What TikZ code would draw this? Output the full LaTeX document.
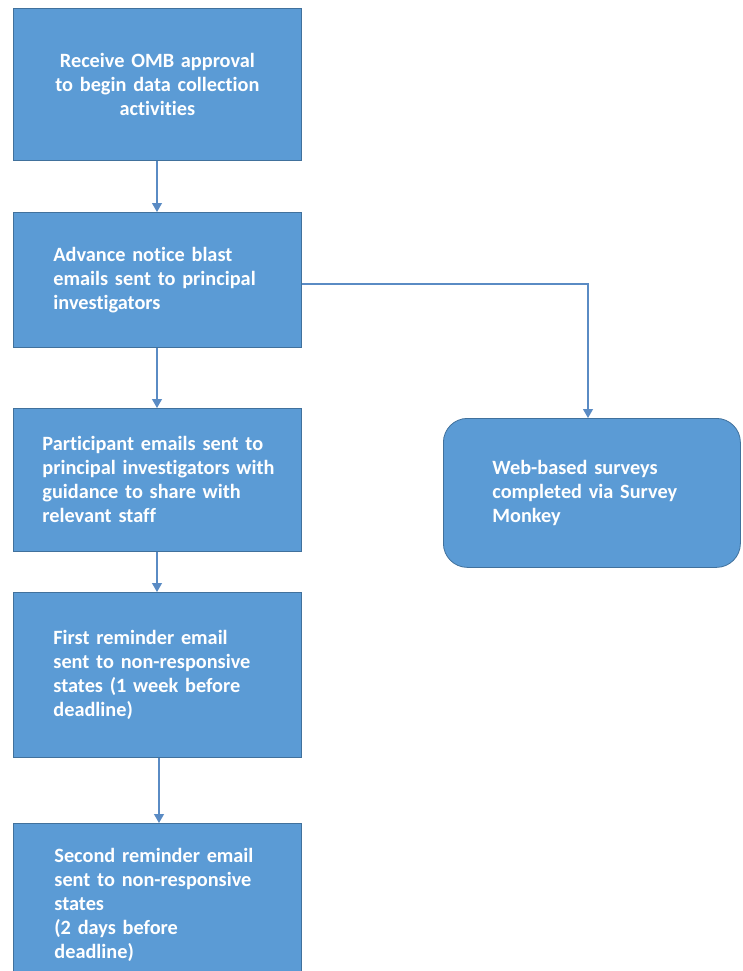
\documentclass[tikz,border=0pt]{standalone}
\usepackage{fontspec}
\setmainfont{Carlito}[Ligatures=CommonOff]
\usetikzlibrary{arrows.meta}
\definecolor{boxblue}{HTML}{5B9BD5}
\definecolor{boxedge}{HTML}{41719C}
\definecolor{linkblue}{HTML}{5A8BC4}
\tikzset{
  box/.style={draw=boxedge, line width=0.8pt, fill=boxblue, text=white,
    font=\fontsize{20.3}{24}\selectfont\bfseries, anchor=north west,
    minimum width=288pt, inner ysep=0pt},
  link/.style={draw=linkblue, line width=1.1pt, -{Triangle[width=10pt,length=9pt]}}
}
\begin{document}
\begin{tikzpicture}[x=1pt,y=-1pt]
\clip (0,0) rectangle (742,971);
\fill[white] (0,0) rectangle (742,971);
\node[box, minimum height=152pt, text width=240pt, inner xsep=24pt, align=center] (b1) at (13,8)
  {Receive OMB approval\\to begin data collection\\activities};
\node[box, minimum height=135pt, text width=208pt, inner xsep=40pt, align=left] (b2) at (13,212)
  {Advance notice blast\\emails sent to principal\\investigators};
\node[box, minimum height=143pt, text width=240pt, inner xsep=24pt, align=left] (b3) at (13,408)
  {\hspace*{5pt}Participant emails sent to\\\hspace*{5pt}principal investigators with\\\hspace*{5pt}guidance to share with\\\hspace*{5pt}relevant staff};
\node[box, minimum height=165pt, text width=208pt, inner xsep=40pt, align=left] (b4) at (13,592)
  {First reminder email\\sent to non-responsive\\states (1 week before\\deadline)};
\node[box, minimum height=164pt, text width=206pt, inner xsep=41pt, align=left] (b5) at (13,823)
  {Second reminder email\\sent to non-responsive\\states\\(2 days before\\deadline)};
\node[box, rounded corners=24pt, minimum width=297pt, minimum height=149pt, text width=199pt, inner xsep=49pt, align=left] (w) at (443,418)
  {Web-based surveys\\completed via Survey\\Monkey};
\draw[link] (b1.south -| 157,0) -- (b2.north -| 157,0);
\draw[link] (b2.south -| 157,0) -- (b3.north -| 157,0);
\draw[link] (b3.south -| 157,0) -- (b4.north -| 157,0);
\draw[link] (b4.south -| 159,0) -- (b5.north -| 159,0);
\draw[link] (b2.east |- 0,284) -- (588,284) -- (w.north -| 588,0);
\end{tikzpicture}
\end{document}
